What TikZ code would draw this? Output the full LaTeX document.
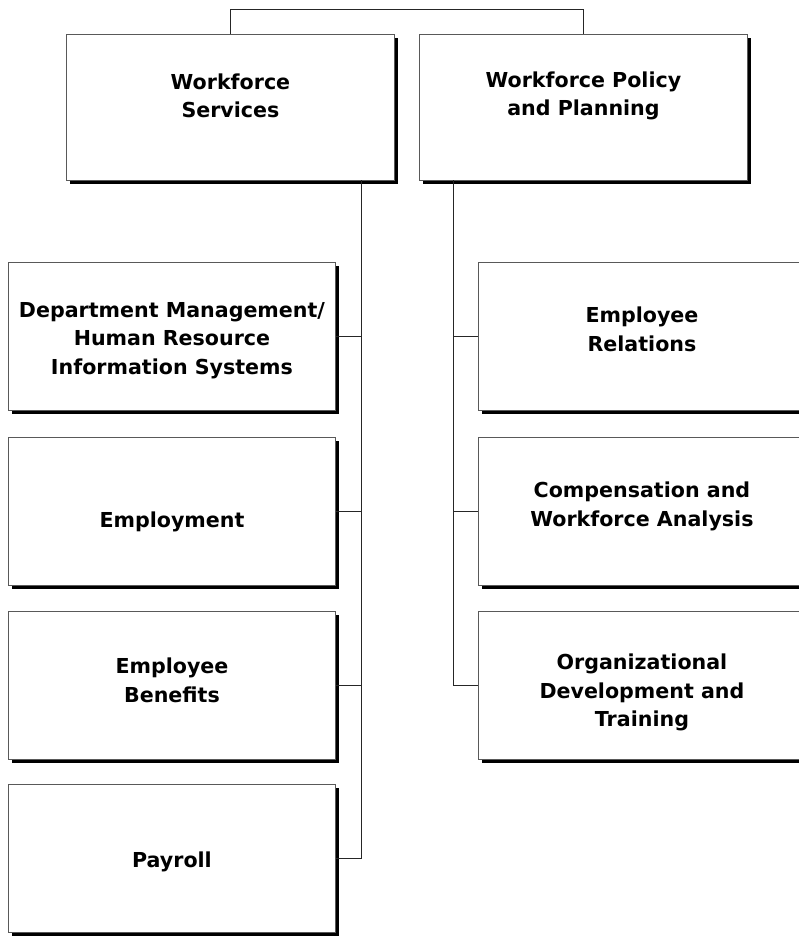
\documentclass[tikz,border=0pt]{standalone}
\usepackage{fontspec}
\setmainfont{DejaVu Sans}
\usetikzlibrary{shadows}
\tikzset{
  orgbox/.style={draw=black!65, line width=0.9pt, fill=white, anchor=north west,
    minimum width=327pt, minimum height=148pt, inner sep=0pt,
    drop shadow={shadow xshift=3.5pt, shadow yshift=-3.5pt, fill=black, opacity=1}},
  boxtext/.style={align=center, inner sep=0pt, font=\bfseries\fontsize{20.6}{28.5}\selectfont},
  conn/.style={draw=black!85, line width=0.9pt}
}
\begin{document}
\begin{tikzpicture}[x=1pt,y=-1pt]
\useasboundingbox (0,0) rectangle (799,937);
\clip (0,0) rectangle (799,937);
% top level
\node[orgbox, minimum width=328pt, minimum height=146pt] (ws) at (66,34) {};
\node[orgbox, minimum width=328pt, minimum height=146pt] (wpp) at (419,34) {};
% left column
\node[orgbox] (dm) at (8,262) {};
\node[orgbox] (emp) at (8,437) {};
\node[orgbox] (ben) at (8,611) {};
\node[orgbox] (pay) at (8,784) {};
% right column
\node[orgbox] (er) at (478,262) {};
\node[orgbox] (cwa) at (478,437) {};
\node[orgbox] (odt) at (478,611) {};
% texts
\node[boxtext] (wst) at ([yshift=11.5pt]ws.center) {Workforce\\Services};
\node[boxtext] (wppt) at ([yshift=11.5pt]wpp.center) {Workforce Policy\\and Planning};
\node[boxtext] (dmt) at ([yshift=-4pt]dm.center) {Department Management/\\Human Resource\\Information Systems};
\node[boxtext] (empt) at ([yshift=-10pt]emp.center) {Employment};
\node[boxtext] (bent) at ([yshift=5pt]ben.center) {Employee\\Benefits};
\node[boxtext] (payt) at ([yshift=-3pt]pay.center) {Payroll};
\node[boxtext] (ert) at ([yshift=7pt]er.center) {Employee\\Relations};
\node[boxtext] (cwat) at ([yshift=5pt]cwa.center) {Compensation and\\Workforce Analysis};
\node[boxtext] (odtt) at ([yshift=-7pt]odt.center) {Organizational\\Development and\\Training};
% connectors
\draw[conn] (ws.north) -- ++(0,-25) -| (wpp.north);
\coordinate (ls) at (361,180);
\coordinate (rs) at (453,180);
\draw[conn] (ls) |- (pay.east);
\draw[conn] (ls |- dm.east) -- (dm.east);
\draw[conn] (ls |- emp.east) -- (emp.east);
\draw[conn] (ls |- ben.east) -- (ben.east);
\draw[conn] (rs) |- (odt.west);
\draw[conn] (rs |- er.west) -- (er.west);
\draw[conn] (rs |- cwa.west) -- (cwa.west);
\end{tikzpicture}
\end{document}
